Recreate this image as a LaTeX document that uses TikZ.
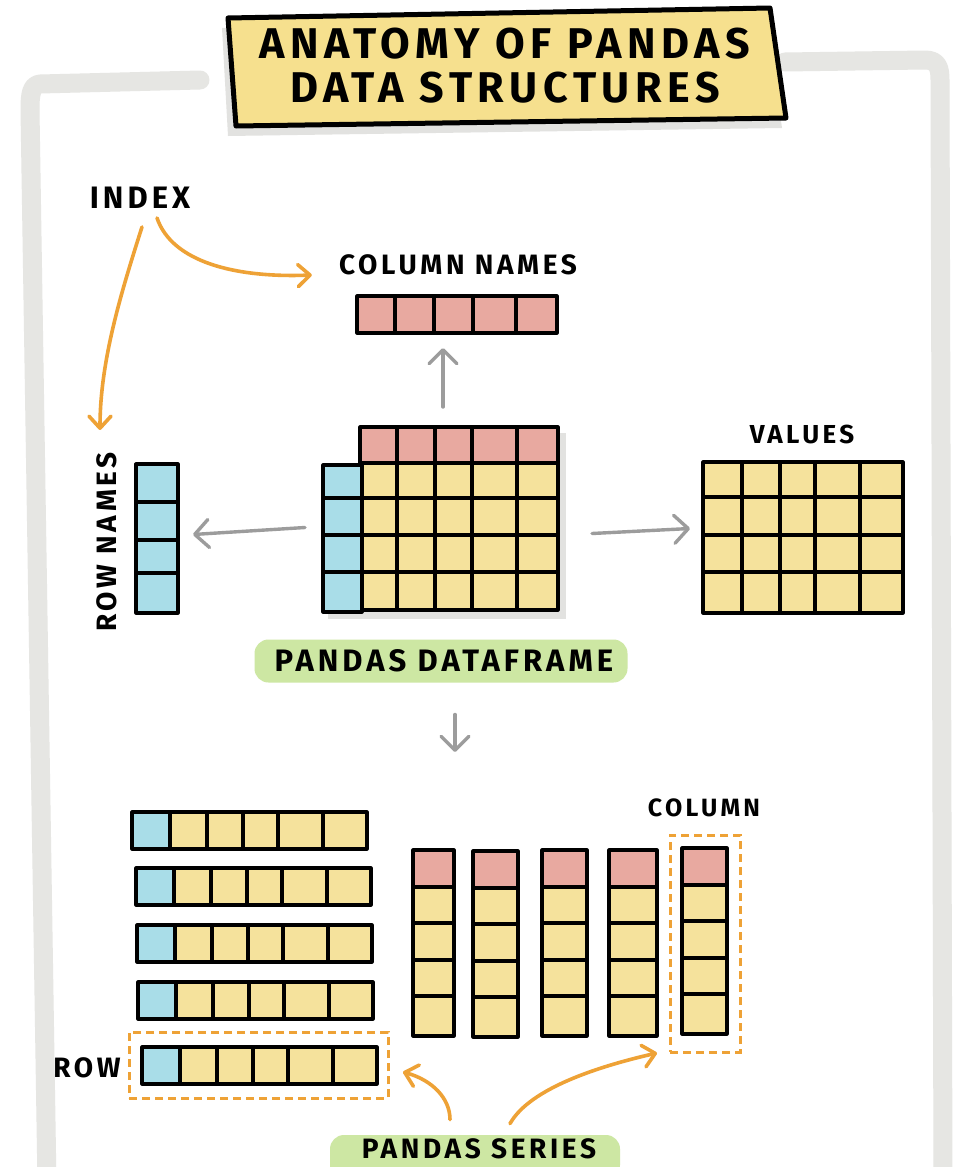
\documentclass[tikz,border=0pt]{standalone}
\usepackage{fontspec}
\setmainfont{Fira Sans}
\usetikzlibrary{arrows.meta,calc}
\definecolor{cyel}{HTML}{F5E29C}
\definecolor{cpink}{HTML}{E8A9A0}
\definecolor{cblue}{HTML}{A9DDE8}
\definecolor{cgreen}{HTML}{CDE7A3}
\definecolor{corange}{HTML}{EEA236}
\definecolor{cgarrow}{HTML}{9C9C9C}
\definecolor{cframe}{HTML}{E6E6E3}
\definecolor{ctitle}{HTML}{F6E08E}
\definecolor{cshadow}{HTML}{E2E2E0}
\newcommand\lblfont[1]{\bfseries\fontsize{#1}{#1}\selectfont\addfontfeature{LetterSpace=13}}
\begin{document}
\begin{tikzpicture}[x=1pt,y=-1pt,
  cellline/.style={line width=3.2pt, line join=round, line cap=round},
  block/.style={draw, cellline, inner sep=0pt, outer sep=0pt, rectangle, anchor=north west},
  oarrow/.style={draw=corange, line width=3.6pt, line cap=round,
    -{Straight Barb[length=12pt,width=22pt,line cap=round,line join=round]}},
  garrow/.style={draw=cgarrow, line width=3.4pt, line cap=round,
    -{Straight Barb[length=14pt,width=28pt,line cap=round,line join=round]}},
  lbl/.style={inner sep=0pt, text=black},
  dashbox/.style={draw=corange, line width=3pt, dash pattern=on 8pt off 5pt, inner sep=0pt, outer sep=0pt, rectangle, anchor=north west},
  greenbox/.style={fill=cgreen, rounded corners=14pt, inner sep=0pt},
  framepath/.style={draw=cframe, line width=19pt, line cap=round, line join=round},
]
\useasboundingbox[fill=white] (0,0) rectangle (972,1167);

% frame
\draw[framepath] (200,80) -- (40,84) .. controls (31,85) and (30,95) .. (30,110) -- (47,1185);
\draw[framepath] (785,62) -- (925,60) .. controls (938,60) and (940,68) .. (940,80) -- (943,1185);

% title box
\fill[cshadow] (222,28) -- (766,18) -- (782,128) -- (228,136) -- cycle;
\draw[fill=ctitle, line width=5pt, line join=round] (228,18) -- (770,8) -- (786,118) -- (236,126) -- cycle;
\node[lbl, align=center, font=\lblfont{43}] (title) at (505,66)
  {ANATOMY OF PANDAS\\[1pt]DATA STRUCTURES};

% labels
\node[lbl, font=\lblfont{31}] (index) at (140,198) {INDEX};
\node[lbl, font=\lblfont{28}] (colnameslbl) at (458,265) {COLUMN NAMES};
\node[lbl, font=\lblfont{26}] (valueslbl) at (802,434) {VALUES};
\node[lbl, font=\lblfont{28}, rotate=90] (rownameslbl) at (107,542) {ROW NAMES};
\node[greenbox, minimum width=373pt, minimum height=43pt] (dfgreen) at (441,661) {};
\node[lbl, font=\lblfont{31}] (dflbl) at (444,661) {PANDAS DATAFRAME};
\node[lbl, font=\lblfont{25}] (collbl) at (704,808) {COLUMN};
\node[lbl, font=\lblfont{28}] (rowlbl) at (87,1068) {ROW};
\node[greenbox, minimum width=290pt, minimum height=44pt] (sgreen) at (475,1157) {};
\node[lbl, font=\lblfont{28}] (serieslbl) at (479,1149) {PANDAS SERIES};

% column names strip
\node[block, fill=cpink, minimum width=200pt, minimum height=37pt] (colnames) at (357,296) {};
\foreach \x in {395,434,473,516} \draw[cellline] (\x,296) -- (\x,333);

% row names strip
\node[block, fill=cblue, minimum width=42pt, minimum height=149pt] (rownames) at (136,464) {};
\foreach \y in {502,540,573} \draw[cellline] (136,\y) -- (178,\y);

% dataframe
\fill[cshadow] (366,433) rectangle (566,619);
\fill[cshadow] (328,470) rectangle (566,619);
\node[block, fill=cpink, minimum width=198pt, minimum height=36pt] (dfhead) at (360,427) {};
\node[block, fill=cyel, minimum width=196pt, minimum height=147pt] (dfbody) at (362,463) {};
\node[block, fill=cblue, minimum width=39pt, minimum height=147pt] (dfidx) at (323,465) {};
\foreach \x in {397,435,472,517} \draw[cellline] (\x,427) -- (\x,610);
\foreach \y in {498,535,572} \draw[cellline] (323,\y) -- (558,\y);

% values
\node[block, fill=cyel, minimum width=200pt, minimum height=151pt] (values) at (703,462) {};
\foreach \x in {742,780,815,860} \draw[cellline] (\x,462) -- (\x,613);
\foreach \y in {497,535,572} \draw[cellline] (703,\y) -- (903,\y);

% gray arrows
\draw[garrow] ([xshift=-16pt,yshift=20pt]dfhead.north) -- ([xshift=-14pt,yshift=-15pt]colnames.south);
\draw[garrow] ([xshift=-18pt,yshift=11pt]dfidx.west) -- ([xshift=15pt,yshift=4pt]rownames.east);
\draw[garrow] ([xshift=34pt,yshift=3pt]dfbody.east) -- ([xshift=-13pt,yshift=9pt]values.west);
\coordinate (split) at (455,752);
\draw[garrow] ([xshift=11pt,yshift=-42pt]dflbl.south) -- (split);

% orange arrows (index)
\draw[oarrow] ([xshift=17pt,yshift=-9pt]index.south) .. controls (172,262) and (235,278) .. ([xshift=-27pt,yshift=-10pt]colnameslbl.west);
\draw[oarrow] ([xshift=2pt,yshift=-18pt]index.south) .. controls (122,290) and (100,360) .. ([xshift=-7pt,yshift=22pt]rownameslbl.east);

% series rows
\newcommand\srow[3]{%
  \node[block, fill=cyel, minimum width=235pt, minimum height=37pt,
    path picture={\fill[cblue] (path picture bounding box.north west) rectangle ([xshift=38pt]path picture bounding box.south west);}] (#1) at (#2,#3) {};
  \foreach \d in {38,75,111,146,191}
    \draw[cellline] ([xshift=\d pt]#1.north west) -- ([xshift=\d pt]#1.south west);
}
\srow{r1}{132}{812}
\srow{r2}{136}{868}
\srow{r3}{137}{925}
\srow{r4}{138}{982}
\srow{r5}{142}{1047}

% series columns
\newcommand\scol[4]{%
  \node[block, fill=cyel, minimum width=#4pt, minimum height=186pt,
    path picture={\fill[cpink] (path picture bounding box.north west) rectangle ([yshift=-37pt]path picture bounding box.north east);}] (#1) at (#2,#3) {};
  \foreach \d in {37,73,110,146}
    \draw[cellline] ([yshift=-\d pt]#1.north west) -- ([yshift=-\d pt]#1.north east);
}
\scol{c1}{413}{850}{41}
\scol{c2}{473}{851}{45}
\scol{c3}{542}{850}{45}
\scol{c4}{609}{850}{48}
\scol{c5}{682}{848}{45}

% dashed boxes
\node[dashbox, minimum width=259pt, minimum height=66pt] (rowbox) at (129,1032) {};
\node[dashbox, minimum width=70pt, minimum height=217pt] (colbox) at (670,835) {};

% orange arrows (series)
\draw[oarrow] ([xshift=-29pt,yshift=19pt]serieslbl.north) .. controls (450,1098) and (432,1080) .. ([xshift=15pt,yshift=-7pt]rowbox.east);
\draw[oarrow] ([xshift=31pt,yshift=15pt]serieslbl.north) .. controls (530,1088) and (600,1066) .. ([xshift=-13pt,yshift=-1pt]colbox.south west);
\end{tikzpicture}
\end{document}
